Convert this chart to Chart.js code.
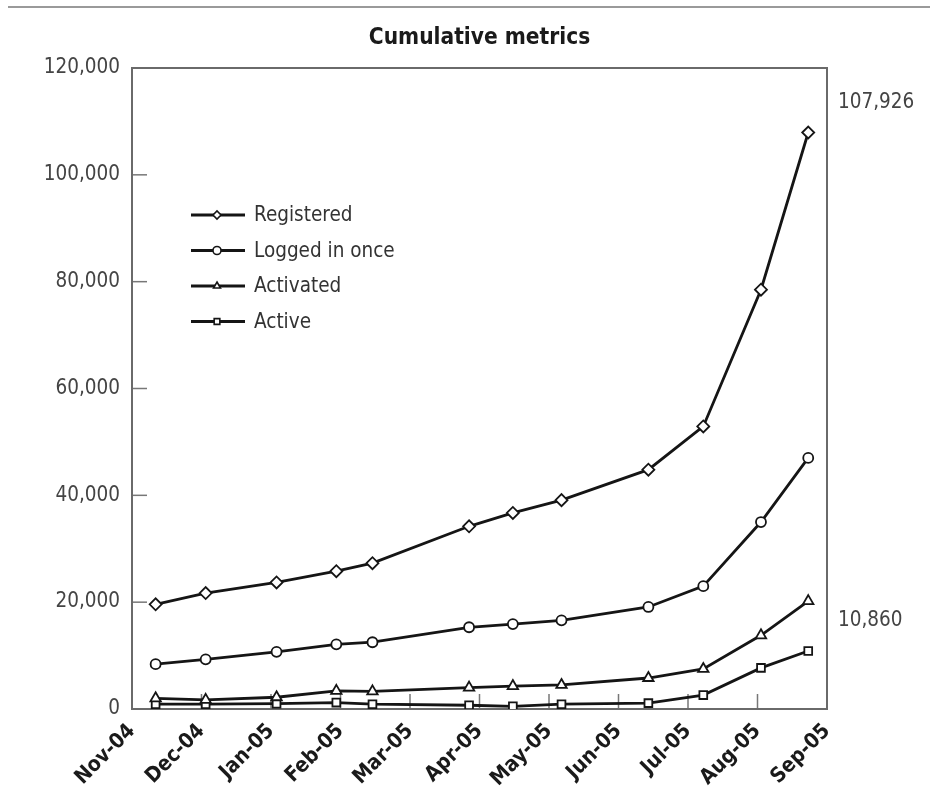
<!DOCTYPE html>
<html><head><meta charset="utf-8">
<script src="https://cdn.jsdelivr.net/npm/chart.js@4/dist/chart.umd.min.js"></script>
<style>html,body{margin:0;padding:0;background:#fff}#wrap{width:930px;height:797px;position:relative}</style>
</head><body><div id="wrap"><canvas id="c" width="930" height="797"></canvas></div>
<script>
const months = ['Nov-04','Dec-04','Jan-05','Feb-05','Mar-05','Apr-05','May-05','Jun-05','Jul-05','Aug-05','Sep-05'];
const xPos = [0.34,1.06,2.08,2.94,3.46,4.85,5.48,6.18,7.43,8.22,9.05,9.73];
const registered = [19600,21700,23700,25800,27300,34200,36700,39100,44800,52900,78500,107926];
const loggedIn = [8400,9300,10700,12100,12500,15300,15900,16600,19100,23000,35000,47000];
const activated = [2000,1700,2200,3400,3300,4000,4300,4500,5800,7500,13800,20200];
const active = [900,900,1000,1200,900,700,500,900,1100,2600,7700,10860];
const seriesNames = ['Registered','Logged in once','Activated','Active'];
const endLabels = [107926, 10860];
const title = 'Cumulative metrics';

const NARROW = '"Liberation Sans Narrow","DejaVu Sans Condensed","Arial Narrow",sans-serif';
const toPts = arr => arr.map((v,i)=>({x:xPos[i], y:v}));
const styles = [
  {pointStyle:'rectRot', radius:6},
  {pointStyle:'circle', radius:5},
  {pointStyle:'triangle', radius:6},
  {pointStyle:'rect', radius:5.5}
];
const allSeries = [registered, loggedIn, activated, active];

const datasets = allSeries.map((arr,i)=>({
  label: seriesNames[i],
  data: toPts(arr),
  borderColor:'#151515',
  borderWidth:2.8,
  pointStyle: styles[i].pointStyle,
  pointRadius: styles[i].radius,
  pointBackgroundColor:'#fff',
  pointBorderColor:'#151515',
  pointBorderWidth:1.8,
  tension:0
}));

const decor = {
  id:'decor',
  beforeDatasetsDraw(chart){
    const {ctx, chartArea:a, scales:{x,y}} = chart;
    ctx.save();
    ctx.strokeStyle = '#777'; ctx.lineWidth = 1.5;
    for (let i=1;i<months.length-1;i++){
      const px = x.getPixelForValue(i);
      ctx.beginPath(); ctx.moveTo(px, a.bottom); ctx.lineTo(px, a.bottom-15); ctx.stroke();
    }
    y.ticks.forEach(t=>{
      if (t.value<=y.min || t.value>=y.max) return;
      const py = y.getPixelForValue(t.value);
      ctx.beginPath(); ctx.moveTo(a.left, py); ctx.lineTo(a.left+15, py); ctx.stroke();
    });
    ctx.strokeStyle = '#6a6a6a'; ctx.lineWidth = 2;
    ctx.strokeRect(a.left, a.top, a.right-a.left, a.bottom-a.top);
    ctx.strokeStyle = '#9a9a9a'; ctx.lineWidth = 2;
    ctx.beginPath(); ctx.moveTo(8, 7); ctx.lineTo(chart.width, 7); ctx.stroke();
    ctx.restore();
  },
  afterDraw(chart){
    const {ctx, chartArea:a, scales:{y}} = chart;
    ctx.save();
    ctx.fillStyle = '#1a1a1a';
    ctx.font = 'bold 22.5px ' + NARROW;
    ctx.textAlign = 'center'; ctx.textBaseline = 'middle';
    ctx.fillText(title, (a.left+a.right)/2, 38);
    ctx.font = '20.5px ' + NARROW;
    ctx.fillStyle = '#444';
    ctx.textAlign = 'left';
    endLabels.forEach(v=>{
      ctx.fillText(v.toLocaleString('en-US'), a.right + 11, y.getPixelForValue(v) - 30);
    });
    const lx = a.left + 59, ly0 = a.top + 147, dy = 35.5;
    chart.data.datasets.forEach((ds,i)=>{
      const yy = ly0 + i*dy;
      ctx.strokeStyle = '#151515'; ctx.lineWidth = 2.8;
      ctx.beginPath(); ctx.moveTo(lx, yy); ctx.lineTo(lx+54, yy); ctx.stroke();
      ctx.lineWidth = 1.6; ctx.strokeStyle = '#151515'; ctx.fillStyle = '#fff';
      Chart.helpers.drawPoint(ctx, {pointStyle: ds.pointStyle, radius: 4, rotation:0, borderWidth:1.6}, lx+26, yy);
      ctx.fillStyle = '#333';
      ctx.font = '20.5px ' + NARROW;
      ctx.textAlign = 'left'; ctx.textBaseline = 'middle';
      ctx.fillText(ds.label, lx+63, yy+1);
    });
    ctx.restore();
  }
};

new Chart(document.getElementById('c'), {
  type:'line',
  data:{datasets},
  options:{
    responsive:false,
    animation:false,
    layout:{padding:{top:68, right:103, left:0, bottom:0}},
    plugins:{legend:{display:false}, title:{display:false}, tooltip:{enabled:false}},
    scales:{
      x:{
        type:'linear', min:0, max:months.length-1,
        grid:{display:false, drawTicks:false}, border:{display:false},
        ticks:{stepSize:1, autoSkip:false, maxRotation:45, minRotation:45, padding:10,
          color:'#1a1a1a', font:{family:NARROW, size:21, weight:'bold'},
          callback:v=>months[v]},
        afterFit(s){ s.height = 88; }
      },
      y:{
        min:0, max:120000,
        grid:{display:false, drawTicks:false}, border:{display:false},
        ticks:{stepSize:20000, padding:12, color:'#444', font:{family:NARROW, size:20.5},
          callback:v=>v.toLocaleString('en-US')},
        afterFit(s){ s.width = 132; }
      }
    }
  },
  plugins:[decor]
});
</script></body></html>
